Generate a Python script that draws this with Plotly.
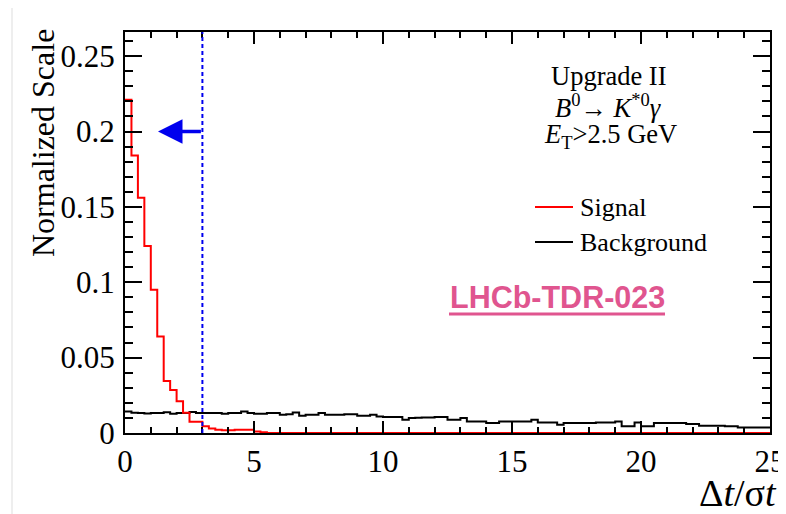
import numpy as np
import plotly.graph_objects as go

# ---------------- data ----------------
BIN_EDGES = np.linspace(0, 25, 101)  # 100 bins of width 0.25 in Δt/σt

SIGNAL = [0.221, 0.184, 0.156, 0.124, 0.095, 0.064, 0.0345, 0.0285, 0.021, 0.0135,
          0.0075, 0.0075, 0.0045, 0.0030, 0.0022, 0.0018, 0.0018, 0.0022, 0.0022, 0.0022,
          0.0010, 0.0005] + [0.0] * 78

BACKGROUND = [0.0143, 0.0135, 0.0133, 0.0130, 0.0133, 0.0133, 0.0138, 0.0128, 0.0133, 0.0133,
              0.0140, 0.0133, 0.0133, 0.0133, 0.0133, 0.0128, 0.0133, 0.0133, 0.0143, 0.0133,
              0.0128, 0.0128, 0.0133, 0.0133, 0.0121, 0.0124, 0.0136, 0.0115, 0.0121, 0.0121,
              0.0133, 0.0121, 0.0121, 0.0121, 0.0125, 0.0125, 0.0115, 0.0115, 0.0121, 0.0110,
              0.0106, 0.0106, 0.0106, 0.0088, 0.0099, 0.0101, 0.0103, 0.0103, 0.0106, 0.0106,
              0.0088, 0.0088, 0.0099, 0.0077, 0.0077, 0.0077, 0.0066, 0.0066, 0.0077, 0.0077,
              0.0077, 0.0077, 0.0077, 0.0088, 0.0070, 0.0070, 0.0070, 0.0055, 0.0066, 0.0066,
              0.0066, 0.0066, 0.0066, 0.0070, 0.0070, 0.0070, 0.0077, 0.0044, 0.0044, 0.0070,
              0.0044, 0.0044, 0.0066, 0.0066, 0.0066, 0.0066, 0.0066, 0.0060, 0.0060, 0.0048,
              0.0048, 0.0048, 0.0048, 0.0044, 0.0044, 0.0037, 0.0037, 0.0037, 0.0037, 0.0037]

CUT_VALUE = 3.0
ARROW_TIP = 1.28
ARROW_LEVEL = 0.2

X_RANGE = [0, 25]
Y_RANGE = [0, 0.266]

# ---------------- figure ----------------
OFF = 8  # page body margin
W, H = 786 - OFF, 514 - OFF
L, T = 125 - OFF, 32 - OFF
PW, PH = 645, 401
R, B = W - L - PW, H - T - PH

def px(xs):  # screen x -> paper
    return (xs - OFF - L) / PW

def py(ys):  # screen y -> paper
    return (T + PH - (ys - OFF)) / PH

SERIF = "Liberation Serif, Times New Roman, serif"

def step_xy(vals):
    x = list(BIN_EDGES)
    y = list(vals) + [vals[-1]]
    return x, y

fig = go.Figure()

bx, by = step_xy(BACKGROUND)
fig.add_trace(go.Scatter(x=bx, y=by, mode="lines", line=dict(color="black", width=2, shape="hv"),
                         name="Background", showlegend=False))
sx, sy = step_xy(SIGNAL)
fig.add_trace(go.Scatter(x=sx, y=sy, mode="lines", line=dict(color="#ff0000", width=2, shape="hv"),
                         name="Signal", showlegend=False))

# cut line
fig.add_shape(type="line", xref="x", yref="y", x0=CUT_VALUE, x1=CUT_VALUE, y0=0, y1=Y_RANGE[1],
              line=dict(color="#0000ee", width=2, dash="4px,3px"))

# arrow
fig.add_annotation(x=ARROW_TIP, y=ARROW_LEVEL, ax=CUT_VALUE, ay=ARROW_LEVEL, xref="x", yref="y",
                   axref="x", ayref="y", showarrow=True, arrowhead=2, arrowsize=1.4,
                   arrowwidth=3.5, arrowcolor="#0000ee", text="")

blk_font = dict(family=SERIF, size=26.5, color="black")
leg_font = dict(family=SERIF, size=26, color="black")
fig.add_annotation(x=px(609), y=py(76), xref="paper", yref="paper", text="Upgrade II",
                   showarrow=False, font=blk_font, xanchor="center", yanchor="middle")
fig.add_annotation(x=px(608), y=py(106), xref="paper", yref="paper",
                   text="<i>B</i><sup>0</sup>→ <i>K</i><sup>*0</sup><i>γ</i>",
                   showarrow=False, font=blk_font, xanchor="center", yanchor="middle")
fig.add_annotation(x=px(610), y=py(136), xref="paper", yref="paper",
                   text="<i>E</i><sub>T</sub>&gt;2.5 GeV",
                   showarrow=False, font=blk_font, xanchor="center", yanchor="middle")

# legend (manual)
for yy, col, lab in [(207, "#ff0000", "Signal"), (242, "black", "Background")]:
    fig.add_shape(type="line", xref="paper", yref="paper", x0=px(535), x1=px(573), y0=py(yy), y1=py(yy),
                  line=dict(color=col, width=2))
    fig.add_annotation(x=px(578), y=py(yy), xref="paper", yref="paper", text=lab, showarrow=False,
                       font=leg_font, xanchor="left", yanchor="middle")

# watermark
fig.add_annotation(x=px(557), y=py(297), xref="paper", yref="paper", text="<b>LHCb-TDR-023</b>",
                   showarrow=False, font=dict(family="Liberation Sans, Arial, sans-serif", size=30.5,
                                              color="#e0558f"),
                   xanchor="center", yanchor="middle")
fig.add_shape(type="line", xref="paper", yref="paper", x0=px(449), x1=px(665), y0=py(314), y1=py(314),
              line=dict(color="#e0558f", width=3))

# faint screenshot border (left / top)
fig.add_shape(type="line", xref="paper", yref="paper", x0=px(12), x1=px(12), y0=py(7), y1=py(514),
              line=dict(color="#dddddd", width=1))
fig.add_shape(type="line", xref="paper", yref="paper", x0=px(12), x1=px(786), y0=py(7), y1=py(7),
              line=dict(color="#e6e6e6", width=1))

# axis titles
fig.add_annotation(x=px(43), y=py(27), xref="paper", yref="paper", text="Normalized Scale",
                   textangle=-90, showarrow=False, font=dict(family=SERIF, size=32, color="black"),
                   xanchor="center", yanchor="top")
fig.add_annotation(x=px(779), y=py(493), xref="paper", yref="paper", text="Δ<i>t</i>/σ<i>t</i>",
                   showarrow=False, font=dict(family=SERIF, size=38, color="black"),
                   xanchor="right", yanchor="middle")

tick_font = dict(family=SERIF, size=31, color="black")
fig.update_xaxes(range=X_RANGE, showline=True, linewidth=2, linecolor="black", mirror="ticks",
                 ticks="inside", ticklen=12, tickwidth=1.5, tickcolor="black", dtick=5, tick0=0,
                 minor=dict(dtick=1, ticklen=6, ticks="inside", tickwidth=1.5, tickcolor="black"),
                 showgrid=False, zeroline=False, tickfont=tick_font, automargin=False)
fig.update_yaxes(range=Y_RANGE, showline=True, linewidth=2, linecolor="black", mirror="ticks",
                 ticks="inside", ticklen=17, tickwidth=1.5, tickcolor="black", dtick=0.05, tick0=0,
                 minor=dict(dtick=0.01, ticklen=8, ticks="inside", tickwidth=1.5, tickcolor="black"),
                 showgrid=False, zeroline=False, tickfont=tick_font, automargin=False,
                 ticklabelstandoff=2)

fig.update_layout(width=W, height=H, margin=dict(l=L, r=R, t=T, b=B, pad=0),
                  plot_bgcolor="white", paper_bgcolor="white", showlegend=False)

fig.write_html("out.html")
